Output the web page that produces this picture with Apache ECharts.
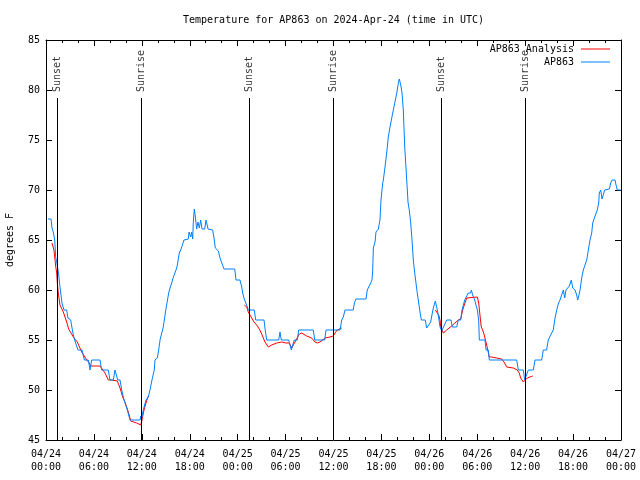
<!DOCTYPE html>
<html>
<head>
<meta charset="utf-8">
<script src="https://cdn.jsdelivr.net/npm/echarts@6/dist/echarts.min.js"></script>
<style>html,body{margin:0;padding:0;background:#fff}#c{width:640px;height:480px}</style>
</head>
<body>
<div id="c"></div>
<script>
// Hours since 2024-04-24 00:00 UTC
var stationHours = [0.25,0.63,0.75,0.91,1.09,1.21,1.34,1.47,1.59,1.75,1.88,2.0,2.25,2.59,2.75,3.09,3.26,3.42,3.59,3.84,4.0,4.51,4.8,5.3,5.51,5.72,6.76,6.97,7.8,8.01,8.43,8.64,8.85,8.98,9.27,9.48,9.77,10.02,10.18,10.52,11.77,11.86,11.93,12.18,12.52,12.81,13.02,13.27,13.56,13.65,13.94,14.11,14.28,14.49,14.61,14.78,14.94,15.15,15.36,15.53,15.74,15.87,16.12,16.37,16.49,16.69,16.87,17.12,17.28,17.82,17.91,18.12,18.24,18.37,18.44,18.57,18.7,18.87,19.03,19.2,19.37,19.53,19.87,20.04,20.29,20.87,21.04,21.2,21.38,21.58,21.79,22.04,22.29,23.63,23.79,24.29,24.51,24.63,24.79,24.96,25.13,25.33,26.08,26.26,27.3,27.45,27.64,29.14,29.3,29.46,30.39,30.55,30.72,30.89,31.09,31.47,31.64,33.47,33.65,34.9,35.06,36.82,37.03,37.23,37.44,38.48,38.61,38.82,40.07,40.23,40.48,40.66,40.82,40.91,40.99,41.2,41.32,41.61,41.82,41.95,42.16,42.24,42.45,42.66,42.86,43.08,43.29,43.49,43.7,43.92,44.12,44.24,44.42,44.58,44.74,44.92,45.08,45.17,45.33,45.49,45.67,45.83,45.99,46.17,46.33,46.49,46.67,46.83,47.0,47.5,47.67,47.92,48.17,48.37,48.5,48.75,48.92,49.05,49.21,49.34,49.55,49.68,49.75,50.17,50.71,50.88,51.43,51.63,51.93,52.09,52.25,52.43,52.68,52.88,53.18,53.26,53.43,53.68,54.01,54.18,54.26,54.97,55.1,55.39,55.51,58.94,59.14,59.77,59.94,60.19,60.39,61.02,61.23,62.07,62.27,62.69,62.89,63.11,63.32,63.52,63.74,63.95,64.15,64.36,64.57,64.78,64.95,65.11,65.33,65.53,65.78,65.96,66.24,66.45,66.58,66.74,66.87,67.08,67.28,67.49,67.71,67.91,68.12,68.33,68.46,68.62,68.87,69.03,69.21,69.28,69.46,69.62,69.78,69.96,70.54,70.71,70.88,71.25,71.38,71.54,71.96];
var stationTemps = [67.1,67.1,66.2,65.8,65.0,63.3,62.8,62.2,61.5,60.3,59.5,58.7,58.0,58.0,57.2,57.0,56.2,55.5,55.0,55.0,54.0,54.0,53.0,53.0,52.0,53.0,53.0,52.0,52.0,51.0,51.0,52.0,52.0,51.0,51.0,50.0,49.0,48.9,48.0,47.0,47.0,47.4,47.0,48.0,49.0,49.3,50.0,51.0,52.0,53.0,53.2,54.0,55.0,55.7,56.0,56.8,57.7,58.7,59.7,60.2,60.7,61.1,61.1,62.2,62.7,63.7,64.0,64.1,65.0,65.1,65.8,65.3,65.8,65.1,66.7,68.1,67.3,66.1,66.8,66.2,67.0,66.1,66.1,67.0,66.1,66.0,65.2,64.2,64.0,63.9,63.2,63.0,62.1,62.1,61.0,61.0,60.3,59.7,59.2,58.8,58.5,58.0,58.0,57.0,57.0,56.0,55.0,55.0,55.8,55.0,55.0,54.5,54.0,54.5,55.0,55.0,56.0,56.0,55.0,55.0,56.0,56.0,57.0,57.3,58.0,58.0,58.7,59.1,59.1,60.0,60.2,60.7,61.0,62.0,64.2,64.8,65.8,66.1,67.0,69.0,70.7,71.0,72.3,73.7,75.3,76.3,77.2,78.0,78.8,79.7,80.7,81.1,80.5,79.7,78.0,74.3,72.2,71.0,68.8,68.0,66.7,65.0,63.0,61.7,60.7,59.7,58.7,57.8,57.0,57.0,56.2,56.3,56.8,57.7,58.2,58.9,58.3,57.8,57.0,56.3,55.9,55.7,55.8,57.0,57.0,56.3,56.3,57.0,57.0,58.0,58.0,59.0,59.0,59.7,59.7,60.0,59.5,59.0,58.0,57.0,55.0,55.0,54.0,54.0,53.0,53.0,52.0,52.0,51.0,51.0,52.0,52.0,53.0,53.0,54.0,54.0,55.0,55.0,55.7,56.0,57.2,58.0,58.6,59.0,59.5,60.0,59.2,60.0,60.0,60.4,61.0,60.2,60.0,59.5,59.0,59.5,60.0,61.2,62.0,62.1,63.0,64.0,65.0,65.7,66.7,67.1,67.2,68.0,68.7,69.7,70.0,69.1,69.1,70.0,70.1,70.7,71.0,71.0,70.5,70.0,70.0];

var analysisHours = [0.75,0.91,1.0,1.09,1.21,1.34,1.42,1.54,1.75,1.97,2.17,2.38,2.59,2.84,3.01,3.42,3.92,4.47,5.1,5.42,5.6,6.76,6.97,7.39,7.8,8.23,8.93,9.27,9.6,9.89,10.31,10.61,10.86,11.36,11.86,12.02,12.27,12.52,12.81,
  18.0,
  24.83,25.13,25.33,25.54,25.76,26.05,26.38,26.71,27.01,27.42,27.84,28.26,28.89,29.51,30.05,30.47,30.77,31.18,31.72,32.02,32.64,33.27,33.68,33.97,34.31,34.94,35.56,35.98,36.19,36.48,37.03,
  42.0,
  48.75,49.0,49.17,49.34,49.42,49.59,49.75,49.96,50.17,50.37,50.79,51.2,51.63,51.93,52.09,52.25,52.46,52.68,52.88,54.01,54.18,54.34,54.5,54.68,54.84,55.09,55.26,55.51,55.81,56.43,57.06,57.35,57.68,58.51,59.01,59.26,59.44,59.77,59.94,60.27,60.61,60.94];
var analysisTemps = [64.7,64.7,64.0,63.3,62.4,61.7,60.7,59.7,58.5,58.3,57.8,57.3,56.8,56.1,56.0,55.3,54.8,53.8,53.0,52.7,52.4,52.4,52.2,51.7,51.0,51.0,50.9,50.2,49.3,48.8,47.8,46.9,46.7,46.7,46.5,47.0,48.0,48.7,49.4,
  null,
  58.5,58.3,57.8,57.5,57.2,56.8,56.5,56.1,55.6,54.8,54.3,54.5,54.7,54.8,54.7,54.7,54.2,54.8,55.6,55.7,55.4,55.2,54.8,54.7,54.8,55.2,55.3,55.4,55.7,56.0,56.2,
  null,
  58.0,57.9,57.5,57.0,56.3,56.0,55.7,55.8,56.0,56.1,56.4,56.7,57.0,57.1,57.7,58.2,58.7,59.2,59.3,59.3,58.7,57.5,56.3,56.0,55.6,54.8,54.2,53.3,53.3,53.2,53.1,52.8,52.3,52.2,52.0,51.7,51.2,50.8,50.8,51.2,51.3,51.4];

var eventHours = [1.42, 11.93, 25.46, 36.0, 49.5, 60.0];
var eventNames = ['Sunset', 'Sunrise', 'Sunset', 'Sunrise', 'Sunset', 'Sunrise'];

var yTicks = [45, 50, 55, 60, 65, 70, 75, 80, 85];
var xStartDay = 24;

function pairs(h, t) {
  return h.map(function (x, i) { return t[i] == null ? [x, '-'] : [x, t[i]]; });
}

var FONT = 'DejaVu Sans Mono';
var chart = echarts.init(document.getElementById('c'), null, { renderer: 'canvas' });

var axisLineStyle = { color: '#000', width: 1 };
var option = {
  animation: false,
  backgroundColor: '#fff',
  textStyle: { fontFamily: FONT, fontSize: 10, color: '#000' },
  title: {
    text: 'Temperature for AP863 on 2024-Apr-24 (time in UTC)',
    left: 178, top: 10,
    textStyle: { fontFamily: FONT, fontSize: 10, fontWeight: 'normal', color: '#000' }
  },
  legend: [
    {
      data: ['AP863 Analysis'], right: 30, top: 44, align: 'right', orient: 'vertical',
      icon: 'rect', itemWidth: 29, itemHeight: 1, itemGap: 4, padding: 0,
      textStyle: { fontFamily: FONT, fontSize: 10, color: '#000', padding: [0, 2, 0, 0] },
      selectedMode: false
    },
    {
      data: ['AP863'], right: 30, top: 57, align: 'right', orient: 'vertical',
      icon: 'rect', itemWidth: 29, itemHeight: 1, itemGap: 4, padding: 0,
      textStyle: { fontFamily: FONT, fontSize: 10, color: '#000', padding: [0, 2, 0, 0] },
      selectedMode: false
    }
  ],
  grid: { left: 46, right: 19, top: 40, bottom: 40, containLabel: false, outerBoundsMode: 'none', show: false },
  xAxis: [
    {
      type: 'value', min: 0, max: 72, interval: 6, position: 'bottom',
      axisLine: { show: true, onZero: false, lineStyle: axisLineStyle },
      axisTick: { show: true, inside: true, length: 6, lineStyle: axisLineStyle },
      minorTick: { show: true, splitNumber: 3, length: 3, lineStyle: axisLineStyle },
      splitLine: { show: false },
      axisLabel: {
        margin: 8, lineHeight: 13, fontFamily: FONT, fontSize: 10, color: '#000',
        formatter: function (v) {
          var day = xStartDay + Math.floor(v / 24);
          var hh = v % 24;
          return '04/' + day + '\n' + (hh < 10 ? '0' : '') + hh + ':00';
        }
      }
    },
    {
      type: 'value', min: 0, max: 72, interval: 6, position: 'top',
      axisLine: { show: true, onZero: false, lineStyle: axisLineStyle },
      axisTick: { show: true, inside: true, length: 6, lineStyle: axisLineStyle },
      minorTick: { show: true, splitNumber: 3, length: 3, lineStyle: axisLineStyle },
      splitLine: { show: false }, axisLabel: { show: false }
    }
  ],
  yAxis: [
    {
      type: 'value', min: yTicks[0], max: yTicks[yTicks.length - 1], interval: 5, position: 'left',
      name: 'degrees F', nameLocation: 'middle', nameGap: 31, nameRotate: 90,
      nameTextStyle: { fontFamily: FONT, fontSize: 10, color: '#000' },
      axisLine: { show: true, onZero: false, lineStyle: axisLineStyle },
      axisTick: { show: true, inside: true, length: 6, lineStyle: axisLineStyle },
      splitLine: { show: false },
      axisLabel: { margin: 6, fontFamily: FONT, fontSize: 10, color: '#000' }
    },
    {
      type: 'value', min: yTicks[0], max: yTicks[yTicks.length - 1], interval: 5, position: 'right',
      axisLine: { show: true, onZero: false, lineStyle: axisLineStyle },
      axisTick: { show: true, inside: true, length: 6, lineStyle: axisLineStyle },
      splitLine: { show: false }, axisLabel: { show: false }
    }
  ],
  series: [
    {
      name: 'AP863 Analysis', type: 'line', data: pairs(analysisHours, analysisTemps),
      showSymbol: false, symbol: 'none', connectNulls: false,
      lineStyle: { color: '#ff0000', width: 1 }, itemStyle: { color: '#ff0000' }, z: 3
    },
    {
      name: 'AP863', type: 'line', data: pairs(stationHours, stationTemps),
      showSymbol: false, symbol: 'none',
      lineStyle: { color: '#0080ff', width: 1 }, itemStyle: { color: '#0080ff' }, z: 4,
      markLine: {
        silent: true, symbol: 'none', animation: false,
        lineStyle: { color: '#000', width: 1, type: 'solid' },
        label: { show: false },
        data: eventHours.map(function (h) {
          return [{ coord: [h, 79.2] }, { coord: [h, 45] }];
        })
      }
    },
    {
      name: 'events', type: 'scatter', symbolSize: 0, silent: true, z: 5,
      data: eventHours.map(function (h, i) { return { value: [h, 79.8], name: eventNames[i] }; }),
      label: {
        show: true, position: [0, 0], rotate: 90, align: 'left', verticalAlign: 'middle',
        fontFamily: FONT, fontSize: 10, color: '#000',
        formatter: function (p) { return p.name; }
      }
    }
  ]
};
chart.setOption(option);
</script>
</body>
</html>
